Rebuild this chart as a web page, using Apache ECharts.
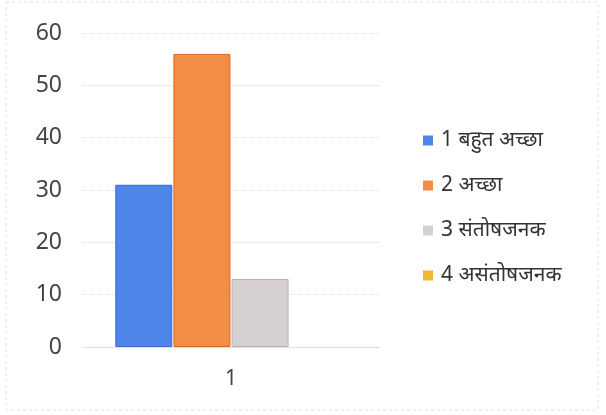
<!DOCTYPE html>
<html>
<head>
<meta charset="utf-8">
<script src="https://cdn.jsdelivr.net/npm/echarts@6/dist/echarts.min.js"></script>
<style>
html,body{margin:0;padding:0;background:#fff;}
#c{width:606px;height:415px;}
</style>
</head>
<body>
<div id="c"></div>
<script>
const categories = ['1'];
const seriesNames = ['1 बहुत अच्छा', '2 अच्छा', '3 संतोषजनक', '4 असंतोषजनक'];
const seriesValues = [[31], [56], [13], [0]];
const colors = ['#4d86e8', '#f38c45', '#d6d0d2', '#f0b830'];
const borderColors = ['#3a6cc8', '#d06a28', '#b8b2b4', '#d09a20'];
const yTicks = [0, 10, 20, 30, 40, 50, 60];

const font = '"Noto Sans", "Noto Sans Devanagari", "Liberation Sans", sans-serif';
const chart = echarts.init(document.getElementById('c'));
chart.setOption({
  backgroundColor: '#fff',
  animation: false,
  textStyle: { fontFamily: font },
  graphic: [{
    type: 'rect',
    shape: { x: 6, y: 2, width: 592, height: 408 },
    style: { fill: 'none', stroke: '#e2e2e2', lineWidth: 1, lineDash: [3, 3] },
    silent: true
  }],
  grid: { left: 82, right: 226, top: 33, bottom: 68, containLabel: false },
  legend: {
    orient: 'vertical',
    left: 418,
    top: 125,
    itemWidth: 10,
    itemHeight: 10,
    itemGap: 24,
    icon: 'rect',
    itemStyle: { borderWidth: 0 },
    textStyle: { fontSize: 21, color: '#333', lineHeight: 20, fontFamily: font, padding: [0, 0, 0, 3] },
    data: seriesNames
  },
  xAxis: {
    type: 'category',
    data: categories,
    axisLine: { show: true, lineStyle: { color: '#d9d9d9', type: 'dotted' } },
    axisTick: { show: false },
    axisLabel: { fontSize: 21, color: '#444', margin: 22, fontFamily: font }
  },
  yAxis: {
    type: 'value',
    min: yTicks[0],
    max: yTicks[yTicks.length - 1],
    interval: 10,
    axisLine: { show: false },
    axisTick: { show: false },
    axisLabel: { fontSize: 23, color: '#444', margin: 20, fontFamily: font },
    splitLine: { show: true, lineStyle: { color: '#dcdcdc', type: 'dotted' } }
  },
  series: seriesNames.map((name, i) => ({
    name: name,
    type: 'bar',
    data: seriesValues[i],
    barWidth: 57,
    barGap: '2%',
    itemStyle: { color: colors[i], borderColor: borderColors[i], borderWidth: seriesValues[i][0] === 0 ? 0 : 1 }
  }))
});
</script>
</body>
</html>
